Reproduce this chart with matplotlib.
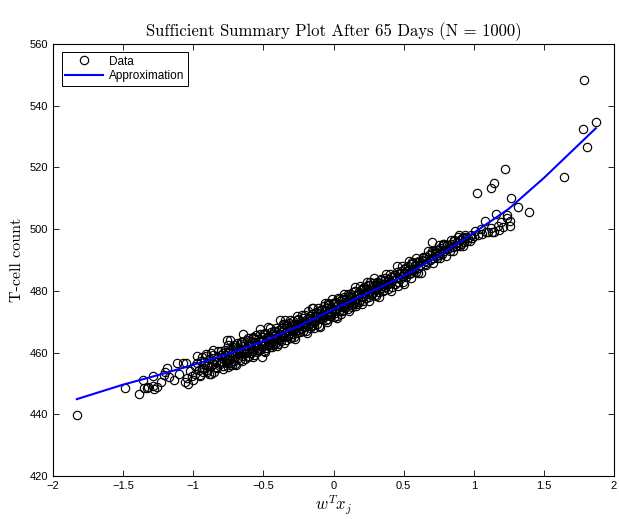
import numpy as np
import matplotlib.pyplot as plt

plt.rcParams["mathtext.fontset"] = "cm"
plt.rcParams["font.family"] = ["Liberation Sans", "DejaVu Sans"]

# projected predictor w^T x_j for each subject
proj = [
    -1.827, -1.49,
    -1.385, -1.356, -1.35, -1.33, -1.32, -1.29, -1.285, -1.28, -1.26, -1.23, -1.21,
    -1.20, -1.19, -1.17, -1.14, -1.118, -1.10, -1.071, -1.06, -1.05, -1.047, -1.035, -1.02, -1.01, -1.00,
    -0.99, -0.985, -0.975, -0.97, -0.96, -0.95, -0.945, -0.94, -0.93, -0.92, -0.91, -0.905, -0.90,
    -0.89, -0.88, -0.875, -0.87, -0.86, -0.857, -0.85, -0.84, -0.83, -0.82, -0.81, -0.80,
    -0.795, -0.79, -0.785, -0.78, -0.775, -0.77, -0.762, -0.76, -0.755, -0.75, -0.745, -0.74,
    -0.738, -0.735, -0.73, -0.726, -0.72, -0.715, -0.71, -0.705, -0.70, -0.695, -0.69, -0.685,
    -0.68, -0.675, -0.67, -0.665, -0.66, -0.655, -0.65, -0.643, -0.64, -0.635, -0.63, -0.625,
    -0.62, -0.615, -0.61, -0.605,
    -0.60, -0.595, -0.59, -0.585, -0.58, -0.575, -0.572, -0.57, -0.565, -0.56, -0.555, -0.55,
    -0.545, -0.54, -0.535, -0.53, -0.524, -0.52, -0.515, -0.512, -0.51, -0.505, -0.50, -0.495,
    -0.49, -0.485, -0.48, -0.475, -0.47, -0.465, -0.46, -0.455, -0.45, -0.445, -0.44, -0.435,
    -0.43, -0.425, -0.42, -0.415, -0.41, -0.405,
    -0.40, -0.395, -0.39, -0.385, -0.381, -0.38, -0.375, -0.37, -0.365, -0.36, -0.355, -0.35,
    -0.346, -0.345, -0.34, -0.335, -0.33, -0.325, -0.32, -0.315, -0.31, -0.305, -0.30, -0.295,
    -0.29, -0.285, -0.28, -0.275, -0.27, -0.265, -0.262, -0.26, -0.255, -0.25, -0.245, -0.24,
    -0.235, -0.23, -0.225, -0.22, -0.215, -0.21, -0.205,
    -0.20, -0.195, -0.19, -0.185, -0.18, -0.175, -0.17, -0.165, -0.16, -0.155, -0.15, -0.144,
    -0.14, -0.135, -0.13, -0.125, -0.12, -0.115, -0.11, -0.105, -0.10, -0.096, -0.09, -0.085,
    -0.08, -0.075, -0.07, -0.065, -0.06, -0.055, -0.05, -0.045, -0.04, -0.037, -0.035, -0.03,
    -0.025, -0.02, -0.015, -0.01, -0.005,
    0.0, 0.005, 0.01, 0.015, 0.02, 0.025, 0.03, 0.034, 0.04, 0.045, 0.05, 0.055, 0.06, 0.065,
    0.07, 0.075, 0.08, 0.085, 0.09, 0.095, 0.10, 0.105, 0.11, 0.115, 0.12, 0.125, 0.13, 0.135,
    0.14, 0.145, 0.15, 0.155, 0.16, 0.165, 0.17, 0.177, 0.18, 0.185, 0.19, 0.195,
    0.20, 0.205, 0.21, 0.215, 0.22, 0.225, 0.23, 0.237, 0.24, 0.245, 0.25, 0.255, 0.26, 0.265,
    0.27, 0.275, 0.28, 0.285, 0.29, 0.295, 0.30, 0.305, 0.31, 0.315, 0.319, 0.325, 0.33, 0.335,
    0.34, 0.345, 0.35, 0.36, 0.365, 0.37, 0.38, 0.385, 0.39, 0.395,
    0.40, 0.41, 0.415, 0.42, 0.43, 0.438, 0.44, 0.45, 0.455, 0.46, 0.47, 0.475, 0.48, 0.49,
    0.495, 0.50, 0.51, 0.515, 0.52, 0.53, 0.535, 0.54, 0.55, 0.555, 0.56, 0.57, 0.575, 0.581,
    0.59, 0.595,
    0.60, 0.61, 0.62, 0.63, 0.64, 0.65, 0.66, 0.67, 0.68, 0.69, 0.70, 0.70, 0.71, 0.72, 0.73,
    0.736, 0.74, 0.75, 0.76, 0.77, 0.78, 0.783, 0.79, 0.807,
    0.81, 0.82, 0.83, 0.84, 0.85, 0.86, 0.87, 0.88, 0.89, 0.897, 0.90, 0.91, 0.92, 0.93, 0.94,
    0.95, 0.96, 0.97, 0.98, 0.99,
    1.00, 1.01, 1.025, 1.03, 1.05, 1.06, 1.08, 1.09, 1.104, 1.12, 1.123, 1.13, 1.145, 1.145,
    1.159, 1.17, 1.18, 1.194, 1.21, 1.223, 1.235, 1.24, 1.259, 1.26, 1.266, 1.313, 1.394,
    1.646, 1.779, 1.788, 1.808, 1.869,
]

# T-cell count after 65 days
tcell = [
    439.7, 448.6,
    446.5, 451.1, 448.4, 448.4, 448.7, 449.2, 452.4, 448.1, 448.9, 450.5, 452.6,
    453.8, 454.9, 452.0, 451.1, 456.5, 453.2, 456.5, 450.6, 456.5, 451.7, 449.7, 454.0, 452.3, 451.1,
    455.8, 453.0, 458.9, 456.6, 454.2, 452.7, 457.4, 455.1, 453.6, 456.9, 459.0, 454.5, 456.0,
    452.9, 457.8, 455.5, 459.8, 456.3, 460.8, 453.8, 457.1, 455.0, 458.6, 456.2, 459.3,
    457.0, 459.9, 455.6, 458.4, 460.7, 456.8, 464.1, 458.0, 455.4, 460.2, 457.6, 461.3,
    464.1, 459.0, 456.5, 456.0, 461.9, 458.8, 457.3, 462.4, 460.0, 455.9, 459.6, 463.0,
    458.2, 461.0, 457.7, 462.8, 460.4, 458.9, 463.5, 466.0, 459.8, 462.1, 457.9, 461.4,
    464.2, 460.6, 458.5, 462.9,
    461.0, 463.8, 459.7, 462.3, 460.4, 464.9, 464.6, 461.7, 459.2, 463.3, 465.6, 461.9,
    460.1, 464.4, 462.6, 460.8, 467.6, 463.9, 461.2, 458.7, 465.1, 462.0, 463.6, 460.5,
    466.3, 463.1, 461.4, 464.8, 462.7, 468.2, 465.5, 461.9, 464.0, 466.8, 463.3, 465.9,
    462.5, 467.0, 464.6, 462.8, 466.1, 464.3,
    465.0, 462.7, 467.3, 464.4, 470.6, 466.1, 463.8, 468.0, 465.5, 467.4, 464.9, 469.1,
    470.6, 466.4, 464.2, 468.5, 466.9, 465.3, 469.5, 467.0, 464.8, 468.7, 467.6, 465.9,
    470.2, 467.3, 465.0, 469.4, 468.1, 466.2, 471.9, 469.0, 467.4, 470.8, 466.6, 468.8,
    470.1, 467.7, 469.6, 466.9, 471.2, 468.4, 470.0,
    469.2, 467.1, 471.0, 468.6, 473.6, 470.3, 468.0, 471.8, 469.5, 472.4, 470.6, 474.3,
    468.9, 472.0, 470.2, 473.1, 471.4, 469.3, 472.7, 470.8, 473.5, 468.2, 471.9, 474.0,
    470.9, 472.6, 475.1, 471.6, 473.8, 470.4, 474.5, 472.3, 471.0, 475.4, 473.2, 475.8,
    472.0, 474.7, 471.7, 473.9, 476.0,
    473.6, 475.9, 472.8, 476.4, 474.2, 471.9, 475.3, 477.6, 473.4, 476.8, 474.9, 472.6, 477.2, 475.4,
    473.7, 478.0, 476.1, 474.3, 477.5, 475.6, 476.9, 474.2, 478.4, 476.0, 479.1, 475.3, 477.8, 474.9,
    479.6, 477.1, 476.0, 479.9, 477.4, 475.8, 478.7, 479.4, 476.5, 478.9, 477.0, 480.2,
    478.0, 480.6, 476.7, 479.4, 481.1, 480.3, 477.6, 480.5, 478.9, 481.8, 479.7, 477.9, 482.0, 480.1,
    478.5, 481.4, 479.3, 482.6, 480.2, 478.6, 481.9, 480.4, 483.0, 481.2, 481.9, 479.6, 482.7, 480.9,
    483.6, 481.5, 479.9, 483.1, 481.4, 484.2, 482.0, 480.6, 483.9, 482.4,
    482.7, 484.6, 481.3, 483.5, 485.0, 485.1, 482.2, 484.3, 486.1, 483.0, 485.6, 483.9, 486.5, 484.7,
    482.9, 485.8, 487.2, 484.6, 486.3, 488.0, 485.4, 487.1, 485.9, 488.6, 486.7, 488.9, 487.0, 488.4,
    486.1, 489.3,
    487.4, 489.6, 488.2, 490.1, 490.5, 488.6, 491.0, 489.3, 491.7, 490.0, 492.4, 495.9, 490.8, 492.8, 491.4,
    492.2, 493.3, 491.6, 493.9, 492.1, 495.0, 495.2, 493.0, 495.0,
    493.6, 494.7, 493.0, 495.3, 494.1, 496.0, 494.6, 495.8, 494.9, 498.1, 496.5, 495.2, 497.0, 495.9, 497.6,
    496.3, 497.2, 496.0, 498.0, 497.1,
    497.8, 499.4, 511.6, 498.1, 499.9, 498.5, 502.6, 499.2, 499.2, 500.3, 513.2, 499.0, 514.8, 499.2,
    504.8, 501.0, 499.6, 502.2, 500.8, 519.4, 504.6, 503.5, 502.7, 501.1, 510.0, 507.1, 505.5,
    517.0, 532.4, 548.2, 526.7, 534.8,
]

# second batch from the crowded middle of the cloud
proj_core = [
    -0.95, -0.9375, -0.925, -0.9125, -0.90, -0.8875, -0.875, -0.8625, -0.85, -0.8375, -0.825, -0.8125,
    -0.80, -0.7875, -0.775, -0.7625, -0.75, -0.7375, -0.725, -0.7125, -0.70, -0.6875, -0.675, -0.6625,
    -0.65, -0.6375, -0.625, -0.6125, -0.60, -0.5875, -0.575, -0.5625, -0.55, -0.5375, -0.525, -0.5125,
    -0.50, -0.4875, -0.475, -0.4625, -0.45, -0.4375, -0.425, -0.4125, -0.40, -0.3875, -0.375, -0.3625,
    -0.35, -0.3375, -0.325, -0.3125, -0.30, -0.2875, -0.275, -0.2625, -0.25, -0.2375, -0.225, -0.2125,
    -0.20, -0.1875, -0.175, -0.1625, -0.15, -0.1375, -0.125, -0.1125, -0.10, -0.0875, -0.075, -0.0625,
    -0.05, -0.0375, -0.025, -0.0125, 0.0, 0.0125, 0.025, 0.0375, 0.05, 0.0625, 0.075, 0.0875,
    0.10, 0.1125, 0.125, 0.1375, 0.15, 0.1625, 0.175, 0.1875, 0.20, 0.2125, 0.225, 0.2375,
    0.25, 0.2625, 0.275, 0.2875, 0.30, 0.3125, 0.325, 0.3375, 0.35, 0.3625, 0.375, 0.3875,
    0.40, 0.4125, 0.425, 0.4375, 0.45, 0.4625, 0.475, 0.4875, 0.50, 0.5125, 0.525, 0.5375,
    0.55, 0.5625, 0.575, 0.5875, 0.60, 0.6125, 0.625, 0.6375, 0.65, 0.6625, 0.675, 0.6875,
    0.70, 0.7125, 0.725, 0.7375, 0.75, 0.7625, 0.775, 0.7875, 0.80, 0.8125, 0.825, 0.8375,
    0.85, 0.8625, 0.875, 0.8875, 0.90, 0.9125, 0.925, 0.9375,
]

tcell_core = [
    452.5, 458.6, 454.9, 459.6, 453.7, 457.9, 453.1, 459.1, 457.4, 455.3, 460.6, 457.0,
    460.5, 454.7, 459.3, 456.7, 462.4, 456.1, 459.7, 462.3, 456.3, 461.5, 459.7, 463.5,
    457.4, 463.6, 459.9, 464.8, 458.9, 463.1, 458.4, 464.4, 462.8, 460.7, 466.0, 462.5,
    466.0, 460.2, 464.9, 462.3, 468.0, 461.7, 465.3, 468.0, 462.0, 467.3, 465.4, 469.3,
    463.2, 469.4, 465.8, 470.6, 464.8, 469.1, 464.4, 470.4, 468.8, 466.8, 472.2, 468.6,
    472.2, 466.5, 471.2, 468.6, 474.3, 468.1, 471.8, 474.4, 468.5, 473.8, 472.0, 475.9,
    469.8, 476.0, 472.4, 477.3, 471.5, 475.8, 471.1, 477.2, 475.6, 473.6, 479.0, 475.5,
    479.1, 473.4, 478.1, 475.6, 481.3, 475.1, 478.8, 481.5, 475.6, 480.9, 479.0, 482.9,
    476.8, 483.0, 479.4, 484.2, 478.4, 482.7, 477.9, 484.0, 482.3, 480.3, 485.6, 482.1,
    485.6, 479.9, 484.6, 482.1, 487.9, 481.7, 485.4, 488.1, 482.2, 487.5, 485.7, 489.6,
    484.2, 489.3, 486.5, 490.5, 485.9, 489.5, 485.9, 490.9, 489.7, 488.3, 492.8, 490.0,
    492.8, 488.9, 492.3, 490.6, 494.8, 490.6, 493.3, 495.2, 491.2, 495.0, 493.8, 496.6,
    492.8, 496.5, 494.6, 497.6, 494.4, 497.2, 494.4, 498.1,
]

# smoothed approximation of the summary curve
approx_x = [-1.83, -1.5, -1.25, -1.0, -0.75, -0.5, -0.25, 0.0, 0.25, 0.5, 0.75, 1.0, 1.25, 1.5, 1.7, 1.87]
approx_y = [444.9, 449.6, 452.7, 456.0, 459.6, 463.7, 468.5, 474.1, 479.4, 484.8, 491.3, 498.8, 506.6, 516.6, 525.3, 532.7]

xticks = [-2, -1.5, -1, -0.5, 0, 0.5, 1, 1.5, 2]
xtick_labels = ["\u22122", "\u22121.5", "\u22121", "\u22120.5", "0", "0.5", "1", "1.5", "2"]
yticks = [420, 440, 460, 480, 500, 520, 540, 560]

fig = plt.figure(figsize=(6.19, 5.19), dpi=100)
ax = fig.add_axes([0.0856, 0.0829, 0.9064, 0.8323])

ax.plot(proj + proj_core, tcell + tcell_core, "o", mfc="none", mec="black", ms=6, mew=0.85,
        label="Data")
ax.plot(approx_x, approx_y, "-", color="blue", lw=1.5, label="Approximation")

ax.set_xlim(-2, 2)
ax.set_ylim(420, 560)
ax.set_xticks(xticks)
ax.set_xticklabels(xtick_labels)
ax.set_yticks(yticks)
ax.tick_params(direction="in", top=True, right=True, labelsize=8, length=4, width=0.6)
for s in ax.spines.values():
    s.set_linewidth(0.8)

ax.set_title("Sufficient Summary Plot After 65 Days (N = 1000)", fontfamily="cmr10", fontsize=12, pad=6)
ax.set_ylabel("T-cell count", fontfamily="cmr10", fontsize=11.5, labelpad=4)
ax.set_xlabel(r"$w^Tx_j$", fontsize=12, labelpad=2)

leg = ax.legend(loc="upper left", bbox_to_anchor=(0.005, 0.995), fontsize=8.5, frameon=True,
                fancybox=False, edgecolor="black", framealpha=1, borderpad=0.3,
                handlelength=3.2, handletextpad=0.5, labelspacing=0.2)
leg.get_frame().set_linewidth(0.7)

fig.savefig("out.png", dpi=100)
